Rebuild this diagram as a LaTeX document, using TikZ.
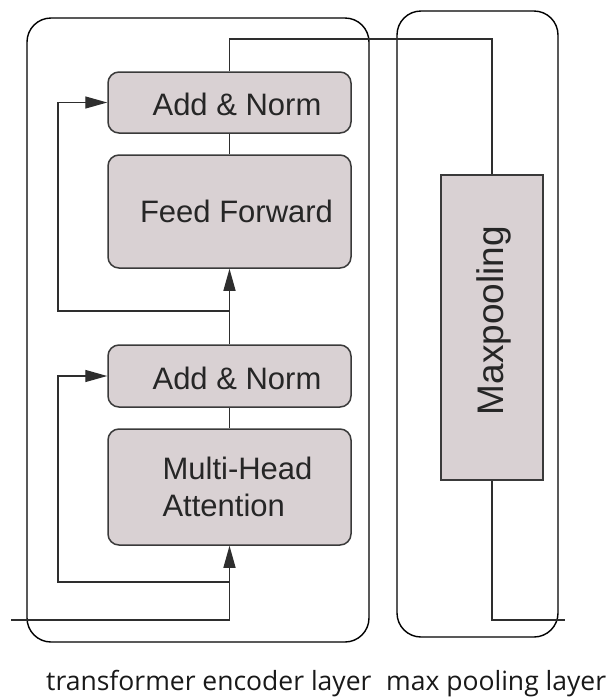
\documentclass[tikz,border=0pt]{standalone}
\usepackage{fontspec}
\setmainfont{Liberation Sans}
\newfontfamily\captionfont{Open Sans}
\usetikzlibrary{arrows.meta}
\definecolor{boxfill}{HTML}{D9D1D3}
\definecolor{boxline}{HTML}{3A3A3A}
\definecolor{wire}{HTML}{2E2E2E}
\begin{document}
\begin{tikzpicture}[x=1pt,y=-1pt,
  layerframe/.style={draw=black,line width=1.4pt,rounded corners=24pt},
  block/.style={draw=boxline,fill=boxfill,line width=1.5pt,rounded corners=11pt,
    minimum width=243pt,inner sep=0pt},
  poolblock/.style={draw=boxline,fill=boxfill,line width=1.5pt,
    minimum width=102pt,minimum height=305pt,inner sep=0pt},
  blocktext/.style={font=\fontsize{31}{37}\selectfont,text=black!85,align=left,inner sep=0pt},
  wireline/.style={draw=wire,line width=1.3pt},
  flow/.style={wireline,-{Triangle[length=22pt,width=12pt]}},
  caption/.style={font=\captionfont\fontsize{26.5}{30}\selectfont,text=black!90,inner sep=0pt,anchor=base west}]
\useasboundingbox (0,0) rectangle (609,697);

% layer frames
\draw[layerframe] (27,18) rectangle (369,642);
\draw[layerframe] (397,11) rectangle (558,637);

% encoder blocks
\node[block,minimum height=61pt]  (an1) at (229.5,102.5) {};
\node[block,minimum height=113pt] (ff)  at (229.5,211.5) {};
\node[block,minimum height=62pt]  (an2) at (229.5,376) {};
\node[block,minimum height=116pt] (mha) at (229.5,487) {};
\node[blocktext] (an1t) at ([xshift=7.5pt,yshift=-2pt]an1.center) {Add \& Norm};
\node[blocktext] (fft)  at ([xshift=7pt]ff.center) {Feed Forward};
\node[blocktext] (an2t) at ([xshift=7.5pt,yshift=-2pt]an2.center) {Add \& Norm};
\node[blocktext] (mhat) at ([xshift=8pt]mha.center) {Multi-Head\\Attention};

% pooling block
\node[poolblock] (mp) at (492,327.5) {};
\node[blocktext,font=\fontsize{37}{44}\selectfont,rotate=90] (mpt) at ([xshift=2pt,yshift=7pt]mp.center) {Maxpooling};

% wiring
\coordinate (in) at (11,620);
\coordinate (out) at (565,620);
\draw[flow] (in) -- (229.5,620) -- (mha.south);
\draw[flow] (229.5,582) -- (58,582) -- (58,376) -- (an2.west);
\draw[wireline] (mha.north) -- (an2.south);
\draw[flow] (an2.north) -- (ff.south);
\draw[flow] (229.5,311) -- (58,311) -- (58,102.5) -- (an1.west);
\draw[wireline] (ff.north) -- (an1.south);
\draw[wireline] (an1.north) -- (229.5,39) -| (mp.north);
\draw[wireline] (mp.south) |- (out);

% captions
\node[caption] (cap1) at (46,690) {transformer encoder layer};
\node[caption] (cap2) at (386,690) {max pooling layer};
\end{tikzpicture}
\end{document}
